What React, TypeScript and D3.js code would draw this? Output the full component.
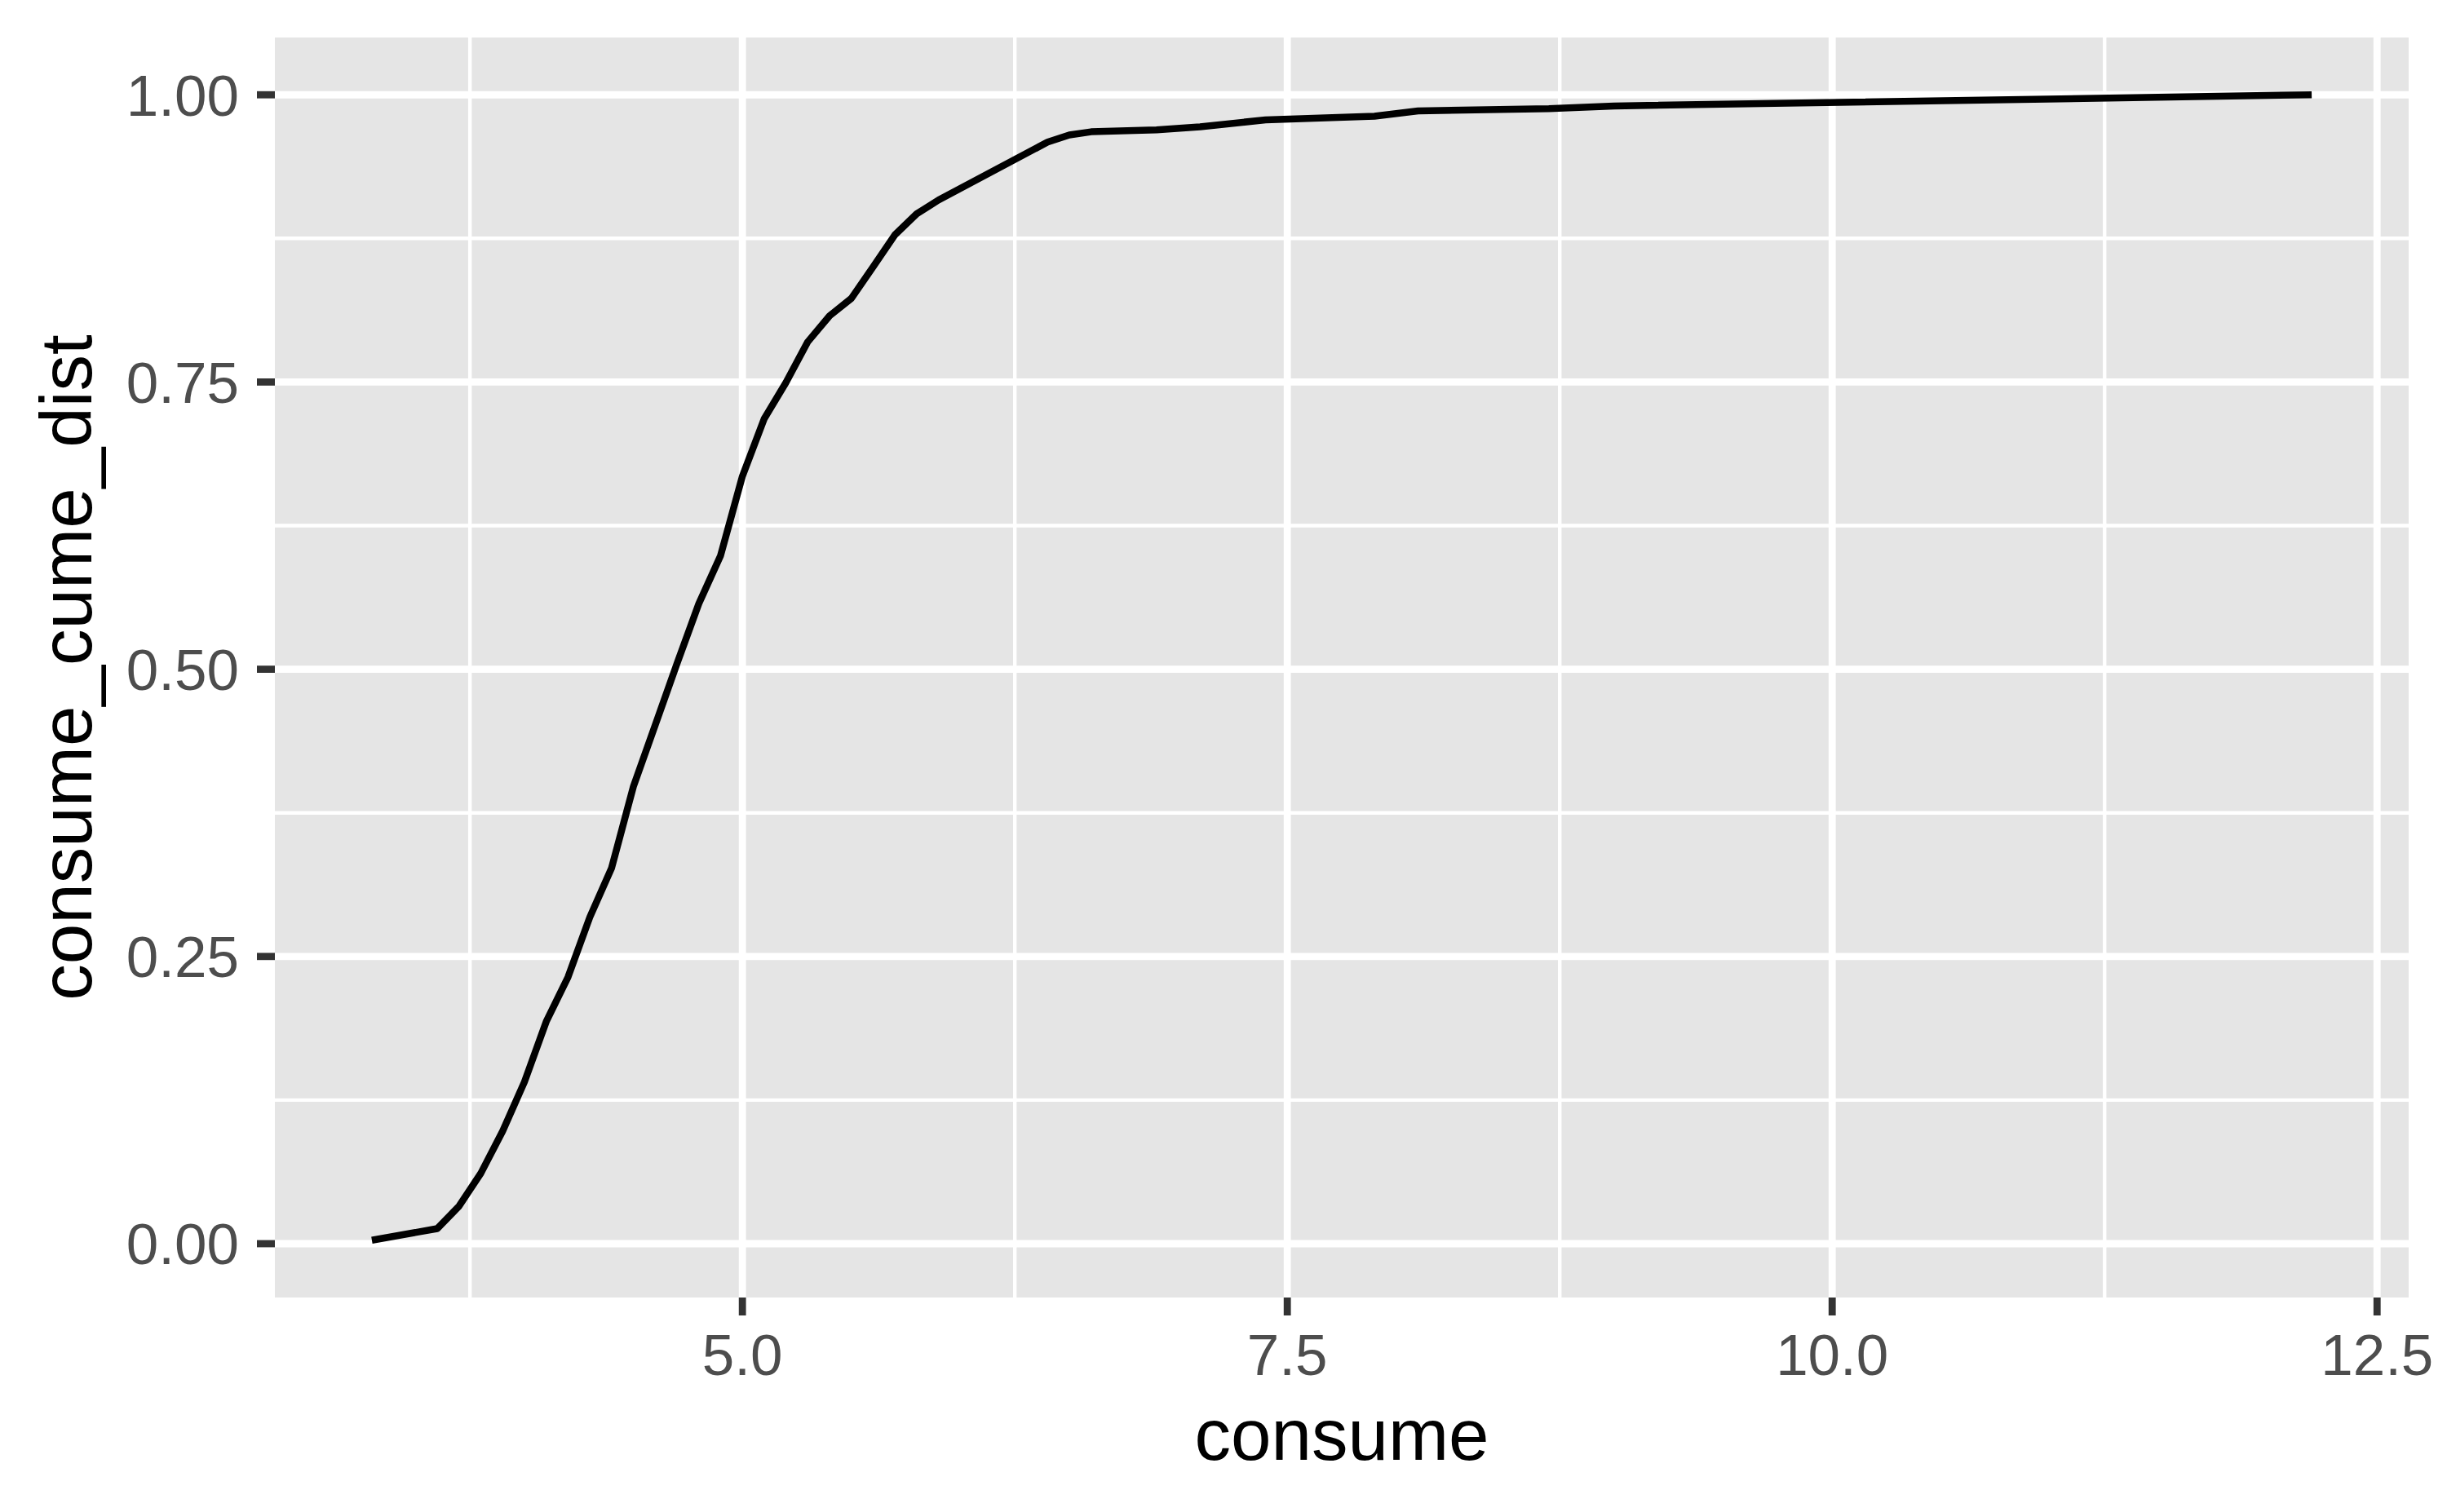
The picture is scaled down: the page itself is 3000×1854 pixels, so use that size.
import * as d3 from "d3";
import { useEffect, useRef } from "react";

const consume = [
  3.3, 3.6, 3.7, 3.8, 3.9, 4.0, 4.1, 4.2, 4.3, 4.4, 4.5, 4.6, 4.7, 4.8, 4.9, 5.0, 5.1, 5.2, 5.3, 5.4, 5.5, 5.6, 5.7,
  5.8, 5.9, 6.4, 6.5, 6.6, 6.9, 7.1, 7.4, 7.9, 8.1, 8.7, 9.0, 12.2,
];
const cumeDist = [
  0.003, 0.0131, 0.0327, 0.0613, 0.0979, 0.1408, 0.1933, 0.2321, 0.2842, 0.3271, 0.398, 0.4514, 0.505, 0.557, 0.599,
  0.668, 0.718, 0.7496, 0.785, 0.8076, 0.8228, 0.8503, 0.8782, 0.8964, 0.9084, 0.9588, 0.965, 0.9678, 0.9695, 0.9721,
  0.9782, 0.9813, 0.986, 0.9879, 0.9903, 1.0,
];

const xMajor = [5, 7.5, 10, 12.5];
const xMinor = [3.75, 6.25, 8.75, 11.25];
const xLabels = ["5.0", "7.5", "10.0", "12.5"];
const yMajor = [0, 0.25, 0.5, 0.75, 1];
const yMinor = [0.125, 0.375, 0.625, 0.875];
const yLabels = ["0.00", "0.25", "0.50", "0.75", "1.00"];

const W = 3000;
const H = 1854;
const FONT = "'Liberation Sans', Arial, Helvetica, sans-serif";

export default function App() {
  const ref = useRef<SVGSVGElement>(null);

  useEffect(() => {
    if (!ref.current) return;
    const svg = d3.select(ref.current);
    svg.selectAll("*").remove();

    const panel = { left: 337, right: 2953, top: 46, bottom: 1591 };
    const data = consume.map((c, i) => ({ x: c, y: cumeDist[i] }));

    // ggplot-style 5% expansion
    const expand = (ext: [number, number]) => {
      const r = ext[1] - ext[0];
      return [ext[0] - 0.05 * r, ext[1] + 0.05 * r];
    };
    const x = d3
      .scaleLinear()
      .domain(expand(d3.extent(consume) as [number, number]))
      .range([panel.left, panel.right]);
    const y = d3
      .scaleLinear()
      .domain(expand(d3.extent(cumeDist) as [number, number]))
      .range([panel.bottom, panel.top]);

    svg.append("rect").attr("width", W).attr("height", H).attr("fill", "#ffffff");

    svg
      .append("rect")
      .attr("x", panel.left)
      .attr("y", panel.top)
      .attr("width", panel.right - panel.left)
      .attr("height", panel.bottom - panel.top)
      .attr("fill", "#E5E5E5");

    const grid = svg.append("g").attr("stroke", "#ffffff");

    // minor grid
    grid
      .selectAll(".gx-minor")
      .data(xMinor)
      .join("line")
      .attr("x1", d => x(d))
      .attr("x2", d => x(d))
      .attr("y1", panel.top)
      .attr("y2", panel.bottom)
      .attr("stroke-width", 4.4);
    grid
      .selectAll(".gy-minor")
      .data(yMinor)
      .join("line")
      .attr("x1", panel.left)
      .attr("x2", panel.right)
      .attr("y1", d => y(d))
      .attr("y2", d => y(d))
      .attr("stroke-width", 4.4);

    // major grid
    grid
      .selectAll(".gx-major")
      .data(xMajor)
      .join("line")
      .attr("x1", d => x(d))
      .attr("x2", d => x(d))
      .attr("y1", panel.top)
      .attr("y2", panel.bottom)
      .attr("stroke-width", 8.8);
    grid
      .selectAll(".gy-major")
      .data(yMajor)
      .join("line")
      .attr("x1", panel.left)
      .attr("x2", panel.right)
      .attr("y1", d => y(d))
      .attr("y2", d => y(d))
      .attr("stroke-width", 8.8);

    // line
    const line = d3
      .line<{ x: number; y: number }>()
      .x(d => x(d.x))
      .y(d => y(d.y));
    svg
      .append("path")
      .datum(data)
      .attr("d", line)
      .attr("fill", "none")
      .attr("stroke", "#000000")
      .attr("stroke-width", 8.5)
      .attr("stroke-linejoin", "round")
      .attr("stroke-linecap", "butt");

    // ticks
    const tickLen = 22;
    svg
      .append("g")
      .selectAll("line")
      .data(xMajor)
      .join("line")
      .attr("x1", d => x(d))
      .attr("x2", d => x(d))
      .attr("y1", panel.bottom)
      .attr("y2", panel.bottom + tickLen)
      .attr("stroke", "#333333")
      .attr("stroke-width", 8.8);
    svg
      .append("g")
      .selectAll("line")
      .data(yMajor)
      .join("line")
      .attr("x1", panel.left - tickLen)
      .attr("x2", panel.left)
      .attr("y1", d => y(d))
      .attr("y2", d => y(d))
      .attr("stroke", "#333333")
      .attr("stroke-width", 8.8);

    // tick labels
    svg
      .append("g")
      .selectAll("text")
      .data(xMajor)
      .join("text")
      .attr("x", d => x(d))
      .attr("y", 1686)
      .attr("text-anchor", "middle")
      .attr("font-family", FONT)
      .attr("font-size", 71)
      .attr("fill", "#4D4D4D")
      .text((d, i) => xLabels[i]);
    svg
      .append("g")
      .selectAll("text")
      .data(yMajor)
      .join("text")
      .attr("x", 293)
      .attr("y", d => y(d) + 25.5)
      .attr("text-anchor", "end")
      .attr("font-family", FONT)
      .attr("font-size", 71)
      .attr("fill", "#4D4D4D")
      .text((d, i) => yLabels[i]);

    // axis titles
    svg
      .append("text")
      .attr("x", (panel.left + panel.right) / 2)
      .attr("y", 1790)
      .attr("text-anchor", "middle")
      .attr("font-family", FONT)
      .attr("font-size", 89)
      .attr("fill", "#000000")
      .text("consume");
    svg
      .append("text")
      .attr("transform", `translate(112,${(panel.top + panel.bottom) / 2}) rotate(-90)`)
      .attr("text-anchor", "middle")
      .attr("font-family", FONT)
      .attr("font-size", 89)
      .attr("fill", "#000000")
      .text("consume_cume_dist");
  }, []);

  return (
    <svg
      ref={ref}
      width={W}
      height={H}
      viewBox={`0 0 ${W} ${H}`}
      style={{ position: "absolute", left: 0, top: 0, display: "block" }}
    />
  );
}
